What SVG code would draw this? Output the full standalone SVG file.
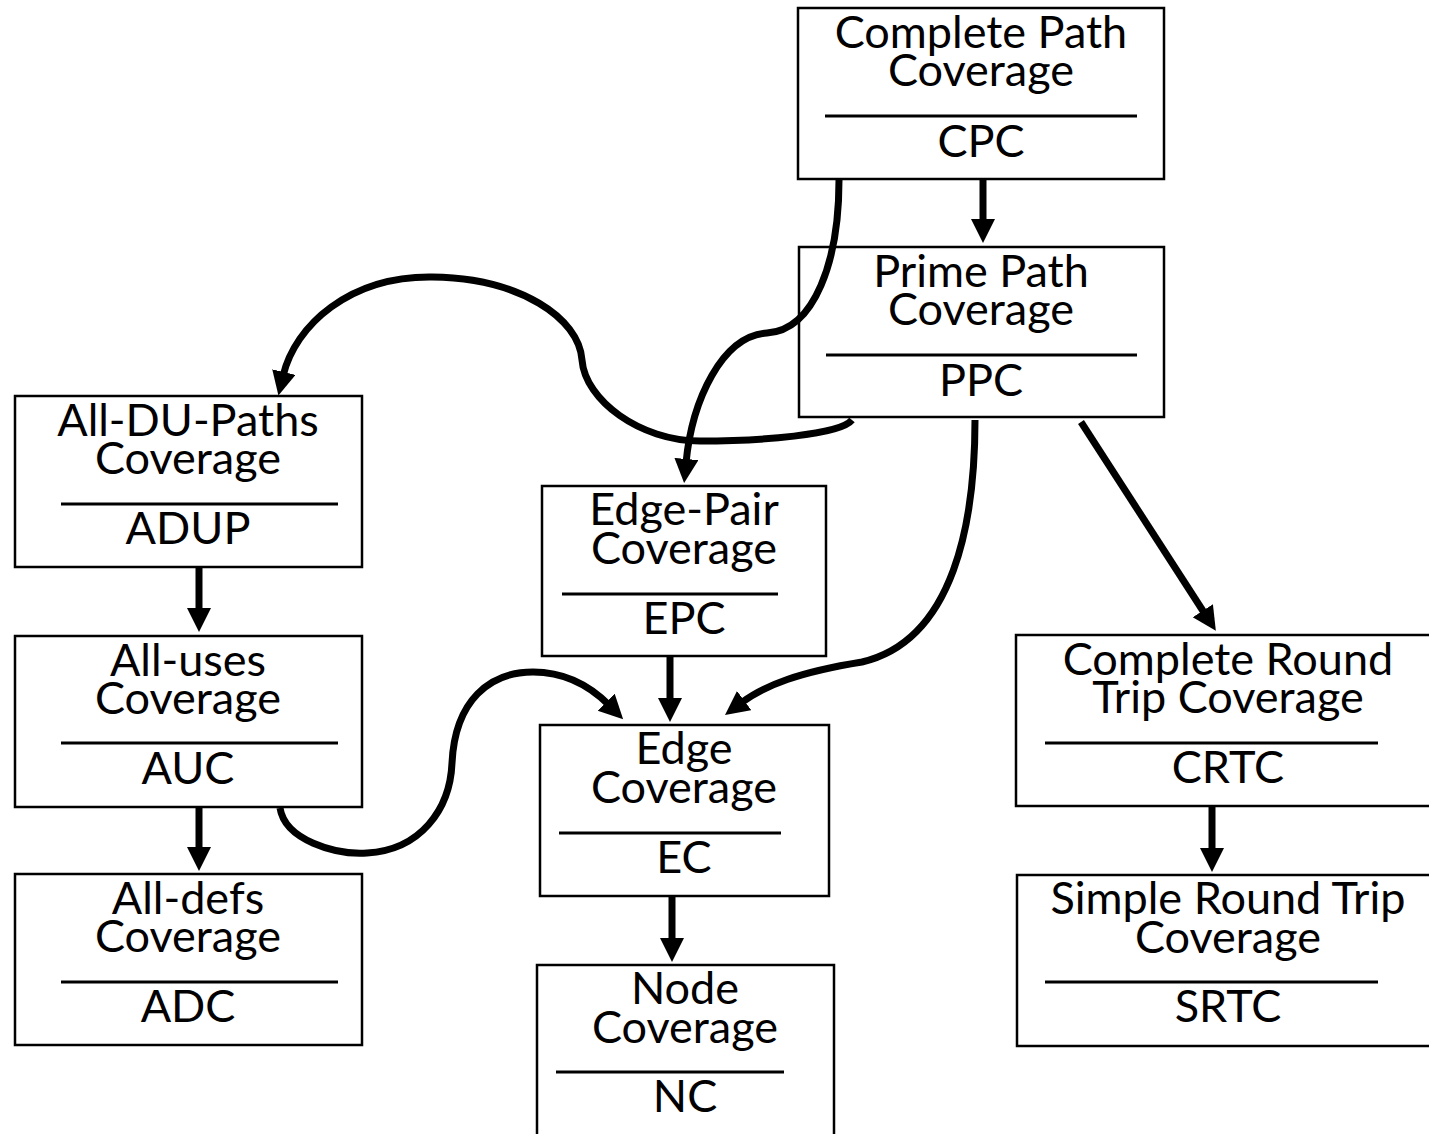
<svg xmlns="http://www.w3.org/2000/svg" width="1429" height="1134" viewBox="0 0 1429 1134">
  <style>
    .box { fill: #ffffff; stroke: #000000; stroke-width: 2.5; }
    .sep { stroke: #000000; stroke-width: 3; }
    .lbl { font-family: Lato, "Open Sans", "Liberation Sans", sans-serif; font-size: 45px; fill: #000000; text-anchor: middle; }
    .edge { fill: none; stroke: #000000; stroke-width: 7; stroke-linecap: butt; }
  </style>
  <defs>
    <marker id="arrow" markerUnits="userSpaceOnUse" markerWidth="26" markerHeight="26" refX="4" refY="12" orient="auto">
      <path d="M0,0 L24,12 L0,24 Z" fill="#000000"/>
    </marker>
  </defs>

  <rect width="1429" height="1134" fill="#ffffff"/>

  <g id="node-cpc">
    <rect class="box" x="798" y="8" width="366" height="171"/>
    <text class="lbl" x="981" y="48">Complete Path</text>
    <text class="lbl" x="981" y="86">Coverage</text>
    <line class="sep" x1="825" y1="116" x2="1137" y2="116"/>
    <text class="lbl" x="981" y="157">CPC</text>
  </g>

  <g id="node-ppc">
    <rect class="box" x="799" y="247" width="365" height="170"/>
    <text class="lbl" x="981" y="287">Prime Path</text>
    <text class="lbl" x="981" y="325">Coverage</text>
    <line class="sep" x1="826" y1="355" x2="1137" y2="355"/>
    <text class="lbl" x="981" y="396">PPC</text>
  </g>

  <g id="node-adup">
    <rect class="box" x="15" y="396" width="347" height="171"/>
    <text class="lbl" x="188" y="436">All-DU-Paths</text>
    <text class="lbl" x="188" y="474">Coverage</text>
    <line class="sep" x1="61" y1="504" x2="338" y2="504"/>
    <text class="lbl" x="188" y="544">ADUP</text>
  </g>

  <g id="node-auc">
    <rect class="box" x="15" y="636" width="347" height="171"/>
    <text class="lbl" x="188" y="676">All-uses</text>
    <text class="lbl" x="188" y="714">Coverage</text>
    <line class="sep" x1="61" y1="743" x2="338" y2="743"/>
    <text class="lbl" x="188" y="784">AUC</text>
  </g>

  <g id="node-adc">
    <rect class="box" x="15" y="874" width="347" height="171"/>
    <text class="lbl" x="188" y="914">All-defs</text>
    <text class="lbl" x="188" y="952">Coverage</text>
    <line class="sep" x1="61" y1="982" x2="338" y2="982"/>
    <text class="lbl" x="188" y="1022">ADC</text>
  </g>

  <g id="node-epc">
    <rect class="box" x="542" y="486" width="284" height="170"/>
    <text class="lbl" x="684" y="525">Edge-Pair</text>
    <text class="lbl" x="684" y="564">Coverage</text>
    <line class="sep" x1="562" y1="594" x2="778" y2="594"/>
    <text class="lbl" x="684" y="634">EPC</text>
  </g>

  <g id="node-ec">
    <rect class="box" x="540" y="725" width="289" height="171"/>
    <text class="lbl" x="684" y="764">Edge</text>
    <text class="lbl" x="684" y="803">Coverage</text>
    <line class="sep" x1="559" y1="833" x2="781" y2="833"/>
    <text class="lbl" x="684" y="873">EC</text>
  </g>

  <g id="node-nc">
    <rect class="box" x="537" y="965" width="297" height="200"/>
    <text class="lbl" x="685" y="1004">Node</text>
    <text class="lbl" x="685" y="1043">Coverage</text>
    <line class="sep" x1="556" y1="1072" x2="784" y2="1072"/>
    <text class="lbl" x="685" y="1112">NC</text>
  </g>

  <g id="node-crtc">
    <rect class="box" x="1016" y="635" width="430" height="171"/>
    <text class="lbl" x="1228" y="675">Complete Round</text>
    <text class="lbl" x="1228" y="713">Trip Coverage</text>
    <line class="sep" x1="1045" y1="743" x2="1378" y2="743"/>
    <text class="lbl" x="1228" y="783">CRTC</text>
  </g>

  <g id="node-srtc">
    <rect class="box" x="1017" y="875" width="430" height="171"/>
    <text class="lbl" x="1228" y="914">Simple Round Trip</text>
    <text class="lbl" x="1228" y="953">Coverage</text>
    <line class="sep" x1="1045" y1="982" x2="1378" y2="982"/>
    <text class="lbl" x="1228" y="1022">SRTC</text>
  </g>

  <!-- connectors sit above the boxes so crossings stay visible -->
  <g id="edges">
    <path class="edge" marker-end="url(#arrow)" d="M983,179 L983,223"/>
    <path class="edge" marker-end="url(#arrow)" d="M199,567 L199,612"/>
    <path class="edge" marker-end="url(#arrow)" d="M199,807 L199,851"/>
    <path class="edge" marker-end="url(#arrow)" d="M670,656 L670,702"/>
    <path class="edge" marker-end="url(#arrow)" d="M672,897 L672,942"/>
    <path class="edge" marker-end="url(#arrow)" d="M1212,806 L1212,852"/>
    <path class="edge" marker-end="url(#arrow)" d="M1081,422 L1205,614"/>
    <!-- CPC to EPC -->
    <path class="edge" marker-end="url(#arrow)" d="M839,180 C839,260 815,330 767,333 C722,336 692,400 686,463"/>
    <!-- PPC to ADUP -->
    <path class="edge" marker-end="url(#arrow)" d="M852,420 C840,435 760,441 700,441 C640,441 585,400 582,360 C579,318 520,278 432,277 C350,276 295,325 283,376"/>
    <!-- PPC to EC -->
    <path class="edge" marker-end="url(#arrow)" d="M975,420 C975,520 955,640 862,662 C800,672 765,685 741,703"/>
    <!-- AUC to EC -->
    <path class="edge" marker-end="url(#arrow)" d="M280,808 C285,840 335,855 367,853 C420,850 450,810 452,763 C455,700 490,672 533,672 C568,672 592,688 609,705"/>
  </g>
</svg>
